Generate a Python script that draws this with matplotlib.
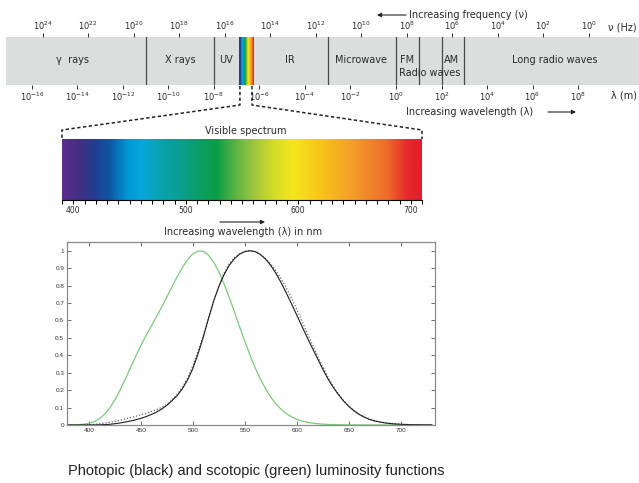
import numpy as np
import matplotlib
matplotlib.use('Agg')
import matplotlib.pyplot as plt
from matplotlib.colors import LinearSegmentedColormap
from matplotlib.lines import Line2D

# ---------------- data ----------------
freq_exponents = [24, 22, 20, 18, 16, 14, 12, 10, 8, 6, 4, 2, 0]          # nu (Hz) = 10^n
wave_exponents = [-16, -14, -12, -10, -8, -6, -4, -2, 0, 2, 4, 6, 8]      # lambda (m) = 10^n
region_boundaries_m = [1e-11, 1e-8, 1e-3, 1.0, 10.0, 100.0, 1000.0]
region_names = ["\u03b3  rays", "X rays", "UV", "IR", "Microwave", "FM", "AM",
                "Radio waves", "Long radio waves"]
visible_strip_m = [1.25e-7, 5.2e-7]          # drawn (exaggerated) visible band
visible_range_nm = [390, 710]
visible_tick_labels = [400, 500, 600, 700]

wavelength_nm = [380, 385, 390, 395, 400, 405, 410, 415, 420, 425, 430, 435, 440, 445,
                 450, 455, 460, 465, 470, 475, 480, 485, 490, 495, 500, 505, 510, 515,
                 520, 525, 530, 535, 540, 545, 550, 555, 560, 565, 570, 575, 580, 585,
                 590, 595, 600, 605, 610, 615, 620, 625, 630, 635, 640, 645, 650, 655,
                 660, 665, 670, 675, 680, 685, 690, 695, 700, 705, 710, 715, 720, 725, 730]
photopic = [0.00004, 0.00006, 0.00012, 0.00022, 0.0004, 0.00064, 0.0012, 0.0022, 0.004,
            0.0073, 0.0116, 0.0168, 0.023, 0.0298, 0.038, 0.048, 0.06, 0.0739, 0.091,
            0.1126, 0.139, 0.1693, 0.208, 0.2586, 0.323, 0.4073, 0.503, 0.6082, 0.71,
            0.7932, 0.862, 0.9149, 0.954, 0.9803, 0.995, 1.0, 0.995, 0.9786, 0.952,
            0.9154, 0.87, 0.8163, 0.757, 0.6949, 0.631, 0.5668, 0.503, 0.4412, 0.381,
            0.321, 0.265, 0.217, 0.175, 0.1382, 0.107, 0.0816, 0.061, 0.0446, 0.032,
            0.0232, 0.017, 0.0119, 0.0082, 0.0057, 0.0041, 0.0029, 0.0021, 0.0015,
            0.00105, 0.00074, 0.00052]
photopic_modified = [0.0001, 0.0002, 0.0004, 0.0008, 0.0019, 0.0035, 0.0066, 0.0105, 0.0153,
                     0.0205, 0.0271, 0.0343, 0.0423, 0.05, 0.0586, 0.0667, 0.0771, 0.0878,
                     0.1007, 0.119, 0.1446, 0.176, 0.2159, 0.2702, 0.3386, 0.4217, 0.5093,
                     0.611, 0.7095, 0.7962, 0.8706, 0.9261, 0.9598, 0.9826, 0.9962, 1.0,
                     0.9947, 0.9786, 0.9549, 0.924, 0.8844, 0.8391, 0.7862, 0.727, 0.6636,
                     0.5962, 0.529, 0.462, 0.3955, 0.3335, 0.2757, 0.2233, 0.1784, 0.1399,
                     0.1084, 0.0826, 0.0622, 0.0463, 0.0339, 0.0248, 0.0177, 0.0126, 0.0089,
                     0.0063, 0.0043, 0.003, 0.0021, 0.0015, 0.001, 0.0007, 0.0005]
scotopic = [0.0006, 0.0011, 0.0022, 0.0045, 0.0093, 0.0185, 0.0348, 0.0604, 0.0966, 0.1436,
            0.1998, 0.2625, 0.3281, 0.3931, 0.455, 0.513, 0.567, 0.62, 0.676, 0.734, 0.793,
            0.851, 0.904, 0.949, 0.982, 0.998, 0.997, 0.975, 0.935, 0.88, 0.811, 0.733, 0.65,
            0.564, 0.481, 0.402, 0.3288, 0.2639, 0.2076, 0.1602, 0.1212, 0.0899, 0.0655,
            0.0469, 0.0332, 0.0231, 0.0159, 0.0109, 0.0074, 0.005, 0.0033, 0.0022, 0.0015,
            0.001, 0.0007, 0.0005, 0.0003, 0.0002, 0.00015, 0.0001, 0.00007, 0.00005,
            0.00004, 0.00003, 0.00002, 0.00001, 0.00001, 0.0, 0.0, 0.0, 0.0]
lum_xticks = [400, 450, 500, 550, 600, 650, 700]
lum_yticks = [0, 0.1, 0.2, 0.3, 0.4, 0.5, 0.6, 0.7, 0.8, 0.9, 1]
lum_ytick_labels = ["0", "0.1", "0.2", "0.3", "0.4", "0.5", "0.6", "0.7", "0.8", "0.9", "1"]

# spectrum colour stops (nm, colour)
spectrum_stops = [(390, '#5c2d8c'), (405, '#432f82'), (420, '#1f3f92'), (432, '#0f56a2'),
                  (448, '#0098d6'), (460, '#08a6de'), (475, '#0aa3b4'), (490, '#09a09a'),
                  (510, '#0a9e6a'), (528, '#0c9f44'), (545, '#5fb443'), (560, '#9cc53e'),
                  (578, '#d2dc28'), (595, '#f5e61b'), (620, '#f7c519'), (650, '#f39b2a'),
                  (680, '#ee6a2b'), (697, '#e52a2c'), (710, '#e31e2d')]

# ---------------- figure ----------------
W, H = 639, 483
fig = plt.figure(figsize=(W / 100, H / 100), dpi=100)
TXT = '#2a2a2a'


def px_axes(x0, y0, x1, y1, **kw):
    return fig.add_axes([x0 / W, 1 - y1 / H, (x1 - x0) / W, (y1 - y0) / H], **kw)


lo, hi = visible_range_nm
cmap = LinearSegmentedColormap.from_list(
    'vis', [((n - lo) / (hi - lo), c) for n, c in spectrum_stops])
grad = np.linspace(0, 1, 512).reshape(1, -1)

# ---- EM spectrum bar ----
C_LIGHT = np.log10(3e8)
xl = (-17.14, 10.68)
ax_em = px_axes(6, 37, 639, 85)
ax_em.set_facecolor('#dcdddd')
for s in ax_em.spines.values():
    s.set_visible(False)
ax_em.imshow(grad, extent=[np.log10(visible_strip_m[0]), np.log10(visible_strip_m[1]), 0, 1],
             aspect='auto', cmap=cmap, zorder=2)
for b in region_boundaries_m:
    ax_em.axvline(np.log10(b), color='#4a4a4a', lw=0.9, zorder=3)
ax_em.set_xlim(*xl)
ax_em.set_ylim(0, 1)
ax_em.set_yticks([])
ax_em.set_xticks(wave_exponents)
ax_em.set_xticklabels([r'$10^{%d}$' % e for e in wave_exponents])
ax_em.tick_params(axis='x', direction='out', length=3, width=0.7, color='#333333',
                  labelsize=6, labelcolor=TXT, pad=1.0)

ax_f = ax_em.twiny()
ax_f.set_xlim(C_LIGHT - xl[0], C_LIGHT - xl[1])
for s in ax_f.spines.values():
    s.set_visible(False)
ax_f.set_xticks(freq_exponents)
ax_f.set_xticklabels([r'$10^{%d}$' % e for e in freq_exponents])
ax_f.tick_params(axis='x', direction='out', length=3, width=0.7, color='#333333',
                 labelsize=6, labelcolor=TXT, pad=0.3)

label_pos = [-14.2, -9.49, -7.47, -4.66, -1.54, 0.48, 2.42, 1.49, 6.99]
label_y = [0.52, 0.52, 0.52, 0.52, 0.52, 0.52, 0.52, 0.25, 0.52]
for name, xp, yp in zip(region_names, label_pos, label_y):
    ax_em.text(xp, yp, name, ha='center', va='center', fontsize=7, color=TXT, zorder=4)

# ---- visible spectrum ----
ax_vis = px_axes(62, 139, 422, 200)
ax_vis.imshow(grad, extent=[lo, hi, 0, 1], aspect='auto', cmap=cmap)
ax_vis.set_xlim(lo, hi)
ax_vis.set_ylim(0, 1)
for k in ('top', 'left', 'right'):
    ax_vis.spines[k].set_visible(False)
ax_vis.spines['bottom'].set_linewidth(0.8)
ax_vis.set_yticks([])
ax_vis.set_xticks(visible_tick_labels)
ax_vis.set_xticks(np.arange(lo, hi + 1, 10), minor=True)
ax_vis.tick_params(axis='x', which='both', direction='out', length=3, width=0.7,
                   labelsize=5.5, labelcolor=TXT, pad=1)
ax_vis.text(0.51, 1.13, 'Visible spectrum', transform=ax_vis.transAxes, ha='center',
            va='center', fontsize=7, color=TXT)

# ---- luminosity functions ----
ax = px_axes(67, 242, 435, 425)
ax.plot(wavelength_nm, scotopic, color='#7acb7a', lw=0.9)
ax.plot(wavelength_nm, photopic_modified, color='#666666', lw=0.9, ls=(0, (1, 1.5)))
ax.plot(wavelength_nm, photopic, color='#1e1e1e', lw=0.8)
ax.set_xlim(379, 733)
ax.set_ylim(0, 1.05)
ax.set_xticks(lum_xticks)
ax.set_yticks(lum_yticks)
ax.set_yticklabels(lum_ytick_labels)
ax.tick_params(direction='in', top=True, right=True, length=3, width=0.6, color='#555555',
               labelsize=4.6, labelcolor='#333333', pad=2)
for lab in ax.get_xticklabels() + ax.get_yticklabels():
    lab.set_family('Liberation Sans')
for s in ax.spines.values():
    s.set_color('#8a8a8a')
    s.set_linewidth(0.9)

# ---- overlay: connectors, arrows, captions ----
ov = fig.add_axes([0, 0, 1, 1], zorder=10)
ov.set_xlim(0, W)
ov.set_ylim(H, 0)
ov.axis('off')
ov.patch.set_alpha(0)


def to_px(a, x, y):
    dx, dy = a.transData.transform((x, y))
    return dx, H - dy


sx0, sy0 = to_px(ax_em, np.log10(visible_strip_m[0]), 0)
sx1, _ = to_px(ax_em, np.log10(visible_strip_m[1]), 0)
vx0, vy0 = to_px(ax_vis, lo, 1)
vx1, _ = to_px(ax_vis, hi, 1)
for xs, xv in ((sx0 + 1, vx0), (sx1 - 1, vx1)):
    ov.add_line(Line2D([xs, xs, xv, xv], [sy0 + 1, sy0 + 20, vy0 - 9, vy0],
                       color='#222222', lw=1.1, ls=(0, (2.2, 1.6))))

ov.text(637, 28, '\u03bd (Hz)', fontsize=7, color=TXT, ha='right', va='center')
ov.text(637, 95, '\u03bb (m)', fontsize=7, color=TXT, ha='right', va='center')

arrow_kw = dict(arrowstyle='-|>', color='#222222', lw=0.8, mutation_scale=6,
                shrinkA=0, shrinkB=0)
ov.annotate('', xy=(377, 15), xytext=(406, 15), arrowprops=arrow_kw)
ov.text(409, 15, 'Increasing frequency (\u03bd)', fontsize=7, color=TXT, va='center', ha='left')
ov.text(406, 112, 'Increasing wavelength (\u03bb)', fontsize=7, color=TXT, va='center', ha='left')
ov.annotate('', xy=(576, 112), xytext=(548, 112), arrowprops=arrow_kw)
ov.annotate('', xy=(265, 222), xytext=(220, 222), arrowprops=arrow_kw)
ov.text(243, 232, 'Increasing wavelength (\u03bb) in nm', fontsize=7, color=TXT,
        va='center', ha='center')
ov.text(68, 471, 'Photopic (black) and scotopic (green) luminosity functions',
        fontsize=10.5, family='Liberation Sans', color='#222222', va='center', ha='left')

fig.savefig('out.png', dpi=100, facecolor='white')
